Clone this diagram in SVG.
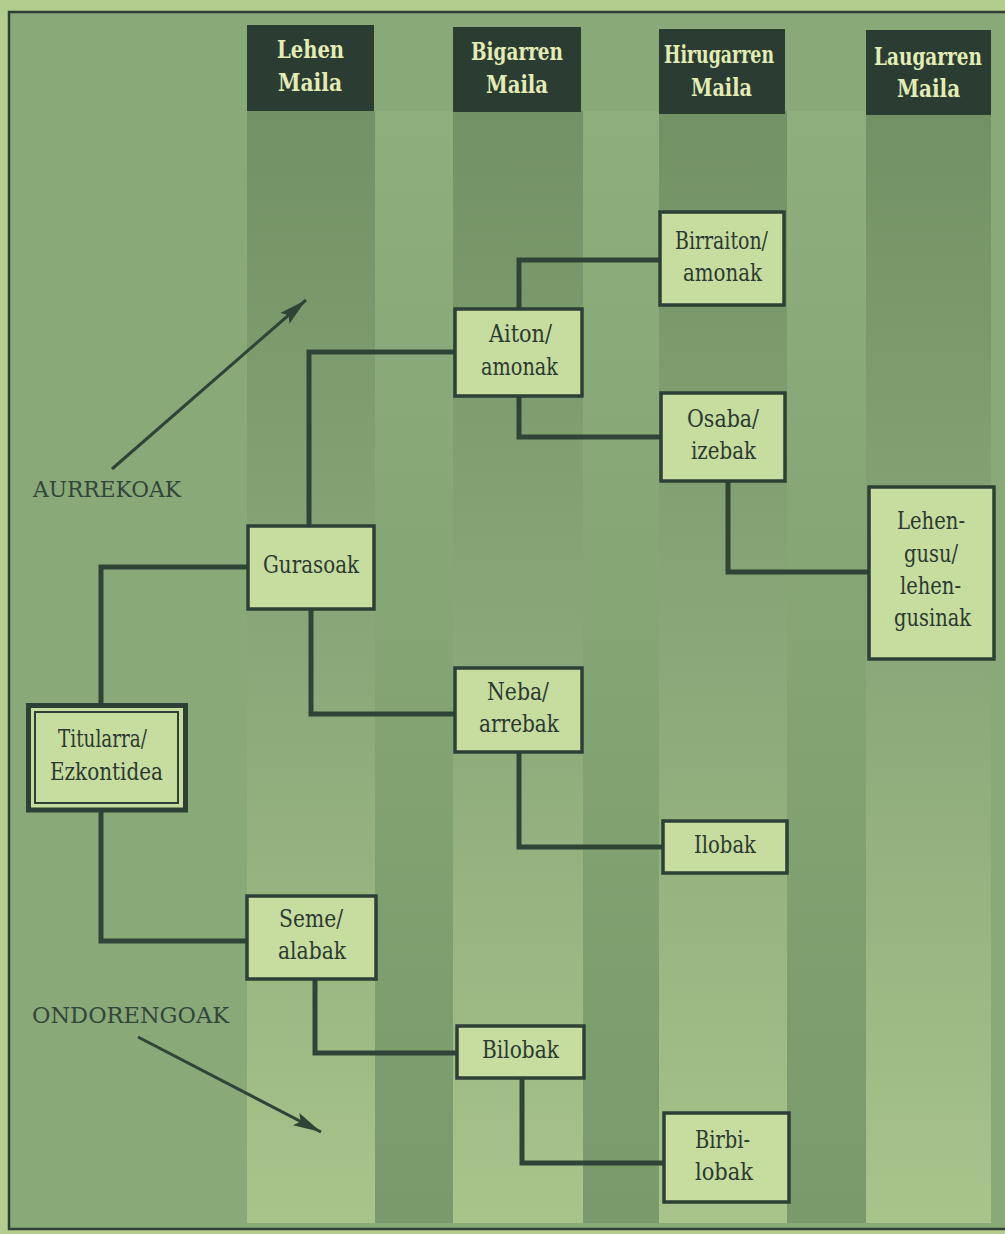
<svg xmlns="http://www.w3.org/2000/svg" width="1005" height="1234" viewBox="0 0 1005 1234">
  <defs>
    <linearGradient id="colGrad" x1="0" y1="0" x2="0" y2="1">
      <stop offset="0" stop-color="#729164"/>
      <stop offset="0.5" stop-color="#8aa879"/>
      <stop offset="1" stop-color="#a9c48b"/>
    </linearGradient>
    <linearGradient id="gapGrad" x1="0" y1="0" x2="0" y2="1">
      <stop offset="0" stop-color="#8fae7d"/>
      <stop offset="1" stop-color="#7b9a6b"/>
    </linearGradient>
    <marker id="arrow" markerUnits="userSpaceOnUse" markerWidth="30" markerHeight="20" viewBox="0 0 30 20" refX="28" refY="10" orient="auto">
      <path d="M0,3 L28,10 L0,17 L5,10 Z" fill="#2f4437"/>
    </marker>
  </defs>
  <style>
    .node rect { fill: #c7dc9f; stroke: #2c4035; stroke-width: 3.5; }
    .txt { font-family: "DejaVu Serif", "Liberation Serif", serif; font-size: 24px; fill: #2b3a30; }
    .hdr rect { fill: #2b3c33; }
    .hdr text { font-family: "DejaVu Serif", "Liberation Serif", serif; font-size: 24px; font-weight: bold; fill: #e2ecb4; text-anchor: middle; }
    .conn path { fill: none; stroke: #2f4437; stroke-width: 5; stroke-linejoin: miter; }
    .lbl { font-family: "DejaVu Serif", "Liberation Serif", serif; font-size: 23px; fill: #33463a; }
    .arr { stroke: #2f4437; stroke-width: 3; fill: none; }
    .col { fill: url(#colGrad); }
    .gap { fill: url(#gapGrad); }
  </style>

  <!-- paper and frame -->
  <rect x="0" y="0" width="1005" height="1234" fill="#b3cd8f"/>
  <rect x="9" y="12" width="1010" height="1217" fill="#8aa978" stroke="#2e3f35" stroke-width="2.5"/>

  <!-- background bands -->
  <g id="bands">
    <rect class="gap" x="375" y="111" width="78" height="1112"/>
    <rect class="gap" x="583" y="111" width="76" height="1112"/>
    <rect class="gap" x="787" y="111" width="79" height="1112"/>
    <rect class="col" x="247" y="111" width="128" height="1112"/>
    <rect class="col" x="453" y="111" width="130" height="1112"/>
    <rect class="col" x="659" y="111" width="128" height="1112"/>
    <rect class="col" x="866" y="111" width="125" height="1112"/>
  </g>

  <!-- column headers -->
  <g id="hdr-lehen" class="hdr">
    <rect x="247" y="25" width="127" height="86"/>
    <text transform="translate(310.5,58) scale(0.8,1)" textLength="84" lengthAdjust="spacingAndGlyphs">Lehen</text>
    <text transform="translate(310,91) scale(0.8,1)" textLength="80" lengthAdjust="spacingAndGlyphs">Maila</text>
  </g>
  <g id="hdr-bigarren" class="hdr">
    <rect x="453" y="27" width="128" height="85"/>
    <text transform="translate(517,60) scale(0.8,1)" textLength="115" lengthAdjust="spacingAndGlyphs">Bigarren</text>
    <text transform="translate(517,93) scale(0.8,1)" textLength="77.5" lengthAdjust="spacingAndGlyphs">Maila</text>
  </g>
  <g id="hdr-hirugarren" class="hdr">
    <rect x="659" y="29" width="126" height="85"/>
    <text transform="translate(719,63) scale(0.8,1)" textLength="137.5" lengthAdjust="spacingAndGlyphs">Hirugarren</text>
    <text transform="translate(721.5,96) scale(0.8,1)" textLength="76" lengthAdjust="spacingAndGlyphs">Maila</text>
  </g>
  <g id="hdr-laugarren" class="hdr">
    <rect x="866" y="30" width="125" height="85"/>
    <text transform="translate(928,65) scale(0.8,1)" textLength="135" lengthAdjust="spacingAndGlyphs">Laugarren</text>
    <text transform="translate(928.5,97) scale(0.8,1)" textLength="79" lengthAdjust="spacingAndGlyphs">Maila</text>
  </g>

  <!-- connectors -->
  <g id="connectors" class="conn">
    <path d="M101 705 V567 H248"/>
    <path d="M101 810 V941 H247"/>
    <path d="M309 526 V352 H455"/>
    <path d="M311 609 V714 H455"/>
    <path d="M519 309 V260 H660"/>
    <path d="M519 396 V437 H661"/>
    <path d="M728 481 V572 H869"/>
    <path d="M519 752 V847 H663"/>
    <path d="M315 979 V1053 H457"/>
    <path d="M522 1078 V1163 H664"/>
  </g>

  <!-- nodes -->
  <g id="titularra" class="node">
    <rect x="28.5" y="705.5" width="157" height="104.5" style="stroke-width:5"/>
    <rect x="35" y="712" width="143" height="91" style="stroke-width:2"/>
    <text class="txt" x="58" y="747" textLength="89" lengthAdjust="spacingAndGlyphs">Titularra/</text>
    <text class="txt" x="50" y="780" textLength="113" lengthAdjust="spacingAndGlyphs">Ezkontidea</text>
  </g>
  <g id="gurasoak" class="node">
    <rect x="248" y="526" width="126" height="83"/>
    <text class="txt" x="263" y="573" textLength="96" lengthAdjust="spacingAndGlyphs">Gurasoak</text>
  </g>
  <g id="seme" class="node">
    <rect x="247" y="896" width="129" height="83"/>
    <text class="txt" x="279" y="927" textLength="64" lengthAdjust="spacingAndGlyphs">Seme/</text>
    <text class="txt" x="278" y="959" textLength="68" lengthAdjust="spacingAndGlyphs">alabak</text>
  </g>
  <g id="aiton" class="node">
    <rect x="455" y="309" width="127" height="87"/>
    <text class="txt" x="489" y="342" textLength="63" lengthAdjust="spacingAndGlyphs">Aiton/</text>
    <text class="txt" x="481" y="375" textLength="77" lengthAdjust="spacingAndGlyphs">amonak</text>
  </g>
  <g id="neba" class="node">
    <rect x="455" y="668" width="127" height="84"/>
    <text class="txt" x="487" y="700" textLength="62" lengthAdjust="spacingAndGlyphs">Neba/</text>
    <text class="txt" x="479" y="732" textLength="80" lengthAdjust="spacingAndGlyphs">arrebak</text>
  </g>
  <g id="bilobak" class="node">
    <rect x="457" y="1026" width="127" height="52"/>
    <text class="txt" x="482" y="1058" textLength="77" lengthAdjust="spacingAndGlyphs">Bilobak</text>
  </g>
  <g id="birraiton" class="node">
    <rect x="660" y="212" width="124" height="93"/>
    <text class="txt" x="675" y="249" textLength="93" lengthAdjust="spacingAndGlyphs">Birraiton/</text>
    <text class="txt" x="683" y="281" textLength="79" lengthAdjust="spacingAndGlyphs">amonak</text>
  </g>
  <g id="osaba" class="node">
    <rect x="661" y="393" width="124" height="88"/>
    <text class="txt" x="687" y="427" textLength="72" lengthAdjust="spacingAndGlyphs">Osaba/</text>
    <text class="txt" x="691" y="459" textLength="65" lengthAdjust="spacingAndGlyphs">izebak</text>
  </g>
  <g id="ilobak" class="node">
    <rect x="663" y="821" width="124" height="52"/>
    <text class="txt" x="694" y="853" textLength="62" lengthAdjust="spacingAndGlyphs">Ilobak</text>
  </g>
  <g id="birbilobak" class="node">
    <rect x="664" y="1113" width="125" height="89"/>
    <text class="txt" x="695" y="1148" textLength="55" lengthAdjust="spacingAndGlyphs">Birbi-</text>
    <text class="txt" x="695" y="1180" textLength="58" lengthAdjust="spacingAndGlyphs">lobak</text>
  </g>
  <g id="lehengusu" class="node">
    <rect x="869" y="487" width="125" height="172"/>
    <text class="txt" x="897" y="529" textLength="68" lengthAdjust="spacingAndGlyphs">Lehen-</text>
    <text class="txt" x="904" y="562" textLength="54" lengthAdjust="spacingAndGlyphs">gusu/</text>
    <text class="txt" x="900" y="594" textLength="61" lengthAdjust="spacingAndGlyphs">lehen-</text>
    <text class="txt" x="894" y="626" textLength="77" lengthAdjust="spacingAndGlyphs">gusinak</text>
  </g>

  <!-- direction labels and arrows -->
  <g id="aurrekoak">
    <line class="arr" x1="112" y1="469" x2="306" y2="300" marker-end="url(#arrow)"/>
    <text class="lbl" x="33" y="497" textLength="148" lengthAdjust="spacingAndGlyphs">AURREKOAK</text>
  </g>
  <g id="ondorengoak">
    <line class="arr" x1="138" y1="1037" x2="321" y2="1132" marker-end="url(#arrow)"/>
    <text class="lbl" x="32" y="1023" textLength="197" lengthAdjust="spacingAndGlyphs">ONDORENGOAK</text>
  </g>
</svg>
